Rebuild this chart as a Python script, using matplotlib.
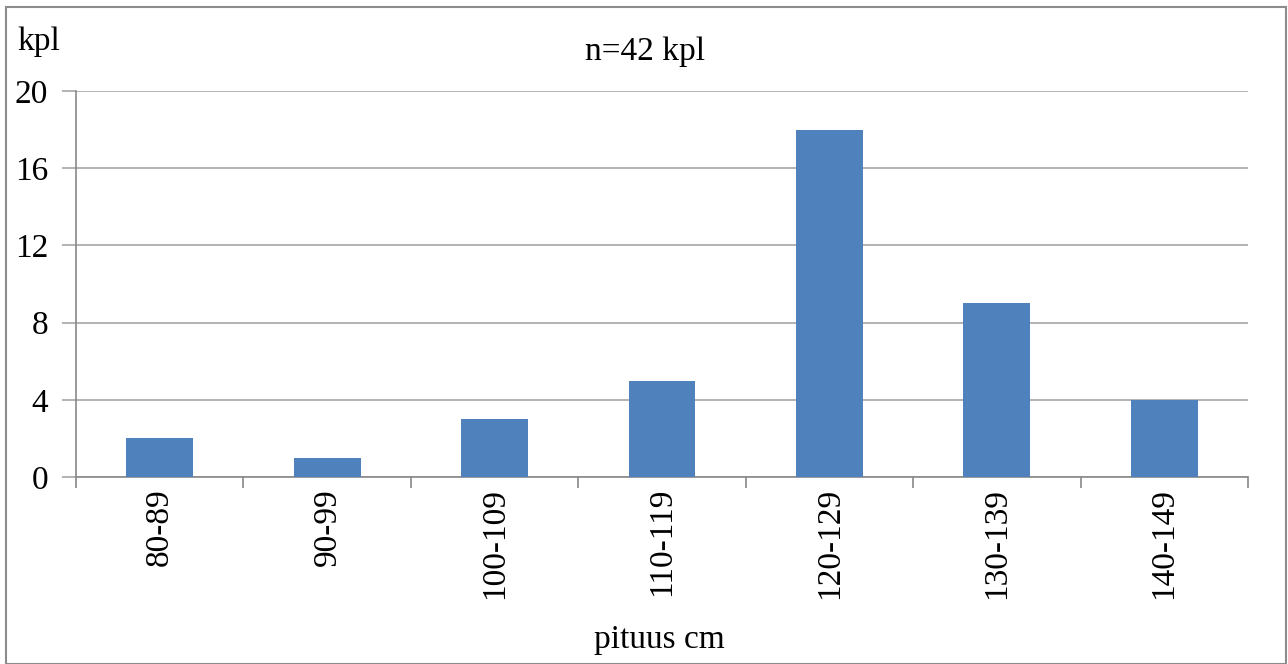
import matplotlib.pyplot as plt
from matplotlib.patches import Rectangle

categories = ["80-89", "90-99", "100-109", "110-119", "120-129", "130-139", "140-149"]
counts = [2, 1, 3, 5, 18, 9, 4]
y_ticks = [0, 4, 8, 12, 16, 20]

plt.rcParams["font.family"] = ["Liberation Serif", "DejaVu Serif"]

W, H = 1288, 664
fig = plt.figure(figsize=(W / 100, H / 100), dpi=100)
ax = fig.add_axes([76 / W, 1 - 477 / H, (1248 - 76) / W, (477 - 91) / H])

x = list(range(len(categories)))
ax.bar(x, counts, width=0.4, color="#4F81BD", zorder=3)

ax.set_xlim(-0.5, len(categories) - 0.5)
ax.set_ylim(0, 20)
ax.set_yticks(y_ticks)
ax.set_yticklabels([str(v) for v in y_ticks], fontsize=24)
ax.yaxis.grid(True, color="#A6A6A6", linewidth=1.2, zorder=0)

# category boundaries as x ticks, labels in between
ax.set_xticks([i - 0.5 for i in range(len(categories) + 1)])
ax.set_xticklabels([])
ax.set_xticks(x, minor=True)
ax.set_xticklabels(categories, minor=True, rotation=90, fontsize=24)
ax.tick_params(axis="x", which="major", length=8, color="#888888", width=1.2)
ax.tick_params(axis="x", which="minor", length=0, pad=8)
ax.tick_params(axis="y", length=10, color="#A6A6A6", width=1.2, pad=10)

for s in ["top", "right"]:
    ax.spines[s].set_visible(False)
ax.spines["left"].set_color("#888888")
ax.spines["bottom"].set_color("#888888")
ax.spines["left"].set_linewidth(1.2)
ax.spines["bottom"].set_linewidth(1.2)

fig.text(17 / W, 1 - 42 / H, "kpl", fontsize=24, va="center", ha="left")
fig.text(645 / W, 1 - 52 / H, "n=42 kpl", fontsize=24, va="center", ha="center")
fig.text(659 / W, 1 - 640 / H, "pituus cm", fontsize=24, va="center", ha="center")

# outer chart border
fig.patches.append(Rectangle((6 / W, 0), (1286 - 6) / W, 1 - 7 / H,
                             transform=fig.transFigure, fill=False,
                             edgecolor="#8C8C8C", linewidth=1.5))

fig.savefig("out.png", dpi=100)
